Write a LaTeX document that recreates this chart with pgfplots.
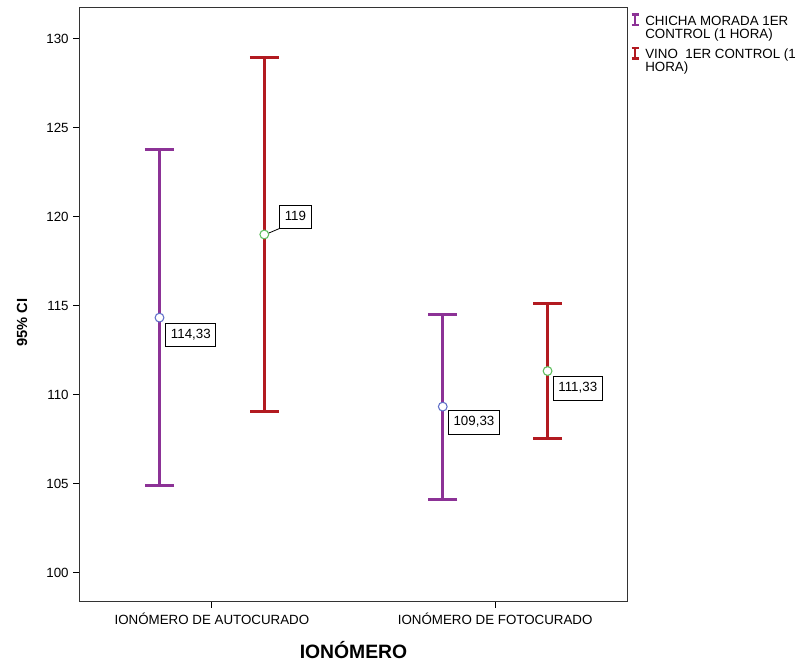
\documentclass[border=0pt]{standalone}
\usepackage{pgfplots}
\pgfplotsset{compat=1.18}
\usepackage{pgfplotstable}
\usepackage{fontspec}
\setmainfont{Liberation Sans}
\definecolor{cpur}{RGB}{140,50,150}
\definecolor{cred}{RGB}{178,26,32}
\definecolor{cblue}{RGB}{95,110,200}
\definecolor{cgreen}{RGB}{95,190,95}

\pgfplotstableread{
x y err
0.815 114.33 9.42
1.815 109.33 5.20
}\chicha
\pgfplotstableread{
x y err
1.185 119.00 9.93
2.185 111.33 3.80
}\vino
\pgfplotstableread{
x y lab dx dy
0.815 114.33 114,33 4.5 -13
1.185 119 119 11.25 13.2
1.815 109.33 109,33 4 -12
2.185 111.33 111,33 4 -12.9
}\labels

\begin{document}
\begin{tikzpicture}
\useasboundingbox (-59.5pt,-47.5pt) rectangle (542pt,451.3pt);
\begin{axis}[
  at={(0,0)}, anchor=south west,
  scale only axis, width=411.3pt, height=445.8pt,
  xmin=0.532, xmax=2.468, ymin=98.37, ymax=131.76,
  xtick={1,2},
  xticklabels={IONÓMERO DE AUTOCURADO, IONÓMERO DE FOTOCURADO},
  ytick={100,105,...,130},
  tick align=outside, tick pos=left, major tick length=4.5pt,
  tick style={black, line width=0.8pt},
  axis line style={black!80, line width=0.9pt},
  /pgf/number format/assume math mode=true,
  ticklabel style={font=\fontsize{10}{12}\selectfont},
  xlabel={IONÓMERO},
  ylabel={95\% CI},
  xlabel style={at={(axis description cs:0.5,0)}, anchor=center, yshift=-36pt, font=\bfseries\fontsize{14.5}{16}\selectfont},
  ylabel style={at={(axis description cs:0,0.47)}, anchor=center, yshift=43pt, font=\bfseries\fontsize{11}{13}\selectfont},
  legend style={at={(1,1)}, anchor=north west, xshift=1.8pt, yshift=-4pt, draw=none, fill=none,
    font=\fontsize{10}{9.8}\selectfont, row sep=12.5pt, inner sep=0pt},
  legend cell align=left,
]
\addplot[cpur, only marks, mark=none,
  legend image code/.code={\draw[cpur, line width=1.8pt] (0pt,-2.6pt) -- (0pt,5.2pt) (-2.7pt,-2.6pt) -- (2.7pt,-2.6pt) (-2.7pt,5.2pt) -- (2.7pt,5.2pt); \path[draw=none, fill=none] (-2.7pt,-2.6pt) rectangle (5.6pt,6.4pt);},
  error bars/.cd, y dir=both, y explicit, error mark=|,
  error bar style={cpur, line width=2.2pt},
  error mark options={cpur, line width=2.2pt, mark size=10.9pt}]
  table[x=x, y=y, y error=err]{\chicha};
\addlegendentry{\parbox[t]{150pt}{CHICHA MORADA 1ER\\CONTROL (1 HORA)}}
\addplot[cred, only marks, mark=none,
  legend image code/.code={\draw[cred, line width=1.8pt] (0pt,-2.6pt) -- (0pt,5.2pt) (-2.7pt,-2.6pt) -- (2.7pt,-2.6pt) (-2.7pt,5.2pt) -- (2.7pt,5.2pt); \path[draw=none, fill=none] (-2.7pt,-2.6pt) rectangle (5.6pt,6.4pt);},
  error bars/.cd, y dir=both, y explicit, error mark=|,
  error bar style={cred, line width=2.2pt},
  error mark options={cred, line width=2.2pt, mark size=10.9pt}]
  table[x=x, y=y, y error=err]{\vino};
\addlegendentry{\parbox[t]{150pt}{VINO\ \ 1ER CONTROL (1\\HORA)}}
\addplot[only marks, mark=*, mark size=3.3pt, mark options={draw=cblue, fill=white, line width=0.8pt}, forget plot]
  table[x=x, y=y]{\chicha};
\addplot[only marks, mark=*, mark size=3.3pt, mark options={draw=cgreen, fill=white, line width=0.8pt}, forget plot]
  table[x=x, y=y]{\vino};
\addplot[only marks, mark=none, forget plot,
  nodes near coords, point meta=explicit symbolic,
  visualization depends on={\thisrow{dx} \as \dx},
  visualization depends on={\thisrow{dy} \as \dy},
  every node near coord/.style={anchor=west, xshift=\dx pt, yshift=\dy pt, draw=black, fill=white,
    line width=0.6pt, inner xsep=3.8pt, inner ysep=4pt, text height=7.3pt, text depth=2.3pt,
    font=\fontsize{10}{12}\selectfont}]
  table[x=x, y=y, meta=lab]{\labels};
\draw[black, line width=0.6pt] (axis cs:1.185,119) ++(3.2pt,1pt) -- ++(8pt,3.4pt);
\end{axis}
\end{tikzpicture}
\end{document}
